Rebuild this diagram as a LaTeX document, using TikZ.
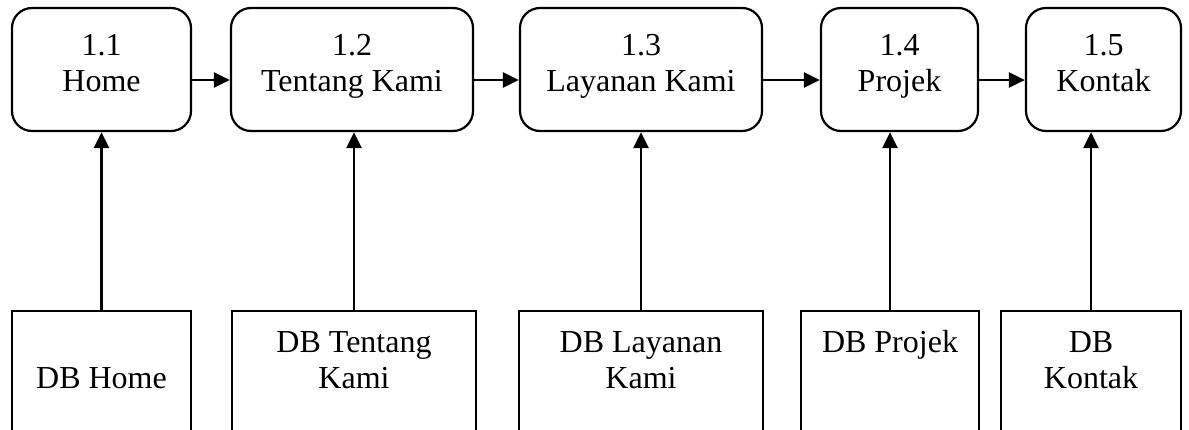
\documentclass[tikz,border=0pt]{standalone}
\usepackage{fontspec}
\setmainfont{Liberation Serif}
\usetikzlibrary{arrows.meta}
\usetikzlibrary{positioning}

\begin{document}
\begin{tikzpicture}[x=0.5pt, y=-0.5pt,
    proc/.style={draw, line width=1.1pt, rounded corners=10pt, inner sep=0pt, minimum height=61.5pt},
    store/.style={draw, line width=1.1pt, inner sep=0pt, minimum height=79.5pt},
    lbl/.style={anchor=base, align=center, inner sep=0pt, font=\fontsize{16}{18}\selectfont},
    flow/.style={-{Triangle[length=8pt, width=7.5pt]}, line width=1.4pt}]
    \useasboundingbox (0, 0) rectangle (1189, 429);
    \clip (0, 0) rectangle (1189, 429);

    % proses
    \node[proc, minimum width=89.5pt] (b1) at (101.5, 69.5) {};
    \node[proc, minimum width=121pt]  (b2) at (352, 69.5) {};
    \node[proc, minimum width=121pt]  (b3) at (641, 69.5) {};
    \node[proc, minimum width=78.5pt] (b4) at (899.5, 69.5) {};
    \node[proc, minimum width=77.5pt] (b5) at (1103.5, 69.5) {};

    \node[lbl] (tb1) at (b1 |- 0, 91) {1.1\\Home};
    \node[lbl] (tb2) at (b2 |- 0, 91) {1.2\\Tentang Kami};
    \node[lbl] (tb3) at (b3 |- 0, 91) {1.3\\Layanan Kami};
    \node[lbl] (tb4) at (b4 |- 0, 91) {1.4\\Projek};
    \node[lbl] (tb5) at (b5 |- 0, 91) {1.5\\Kontak};

    % database
    \node[store, minimum width=89.5pt] (d1) at (101.5, 390.5) {};
    \node[store, minimum width=122pt]  (d2) at (354, 390.5) {};
    \node[store, minimum width=122pt]  (d3) at (641, 390.5) {};
    \node[store, minimum width=89pt]   (d4) at (890, 390.5) {};
    \node[store, minimum width=90pt]   (d5) at (1091, 390.5) {};

    \node[lbl] (td1) at (d1 |- 0, 388) {DB Home};
    \node[lbl] (td2) at (d2 |- 0, 388) {DB Tentang\\Kami};
    \node[lbl] (td3) at (d3 |- 0, 388) {DB Layanan\\Kami};
    \node[lbl] (td4) at (d4 |- 0, 352) {DB Projek};
    \node[lbl] (td5) at (d5 |- 0, 388) {DB\\Kontak};

    \draw[flow] (b1.east |- 0, 80) -- (b2.west |- 0, 80);
    \draw[flow] (b2.east |- 0, 80) -- (b3.west |- 0, 80);
    \draw[flow] (b3.east |- 0, 80) -- (b4.west |- 0, 80);
    \draw[flow] (b4.east |- 0, 80) -- (b5.west |- 0, 80);

    \draw[flow] (d1.north) -- (d1.north |- b1.south);
    \draw[flow] (d2.north) -- (d2.north |- b2.south);
    \draw[flow] (d3.north) -- (d3.north |- b3.south);
    \draw[flow] (d4.north) -- (d4.north |- b4.south);
    \draw[flow] (d5.north) -- (d5.north |- b5.south);
\end{tikzpicture}
\end{document}
